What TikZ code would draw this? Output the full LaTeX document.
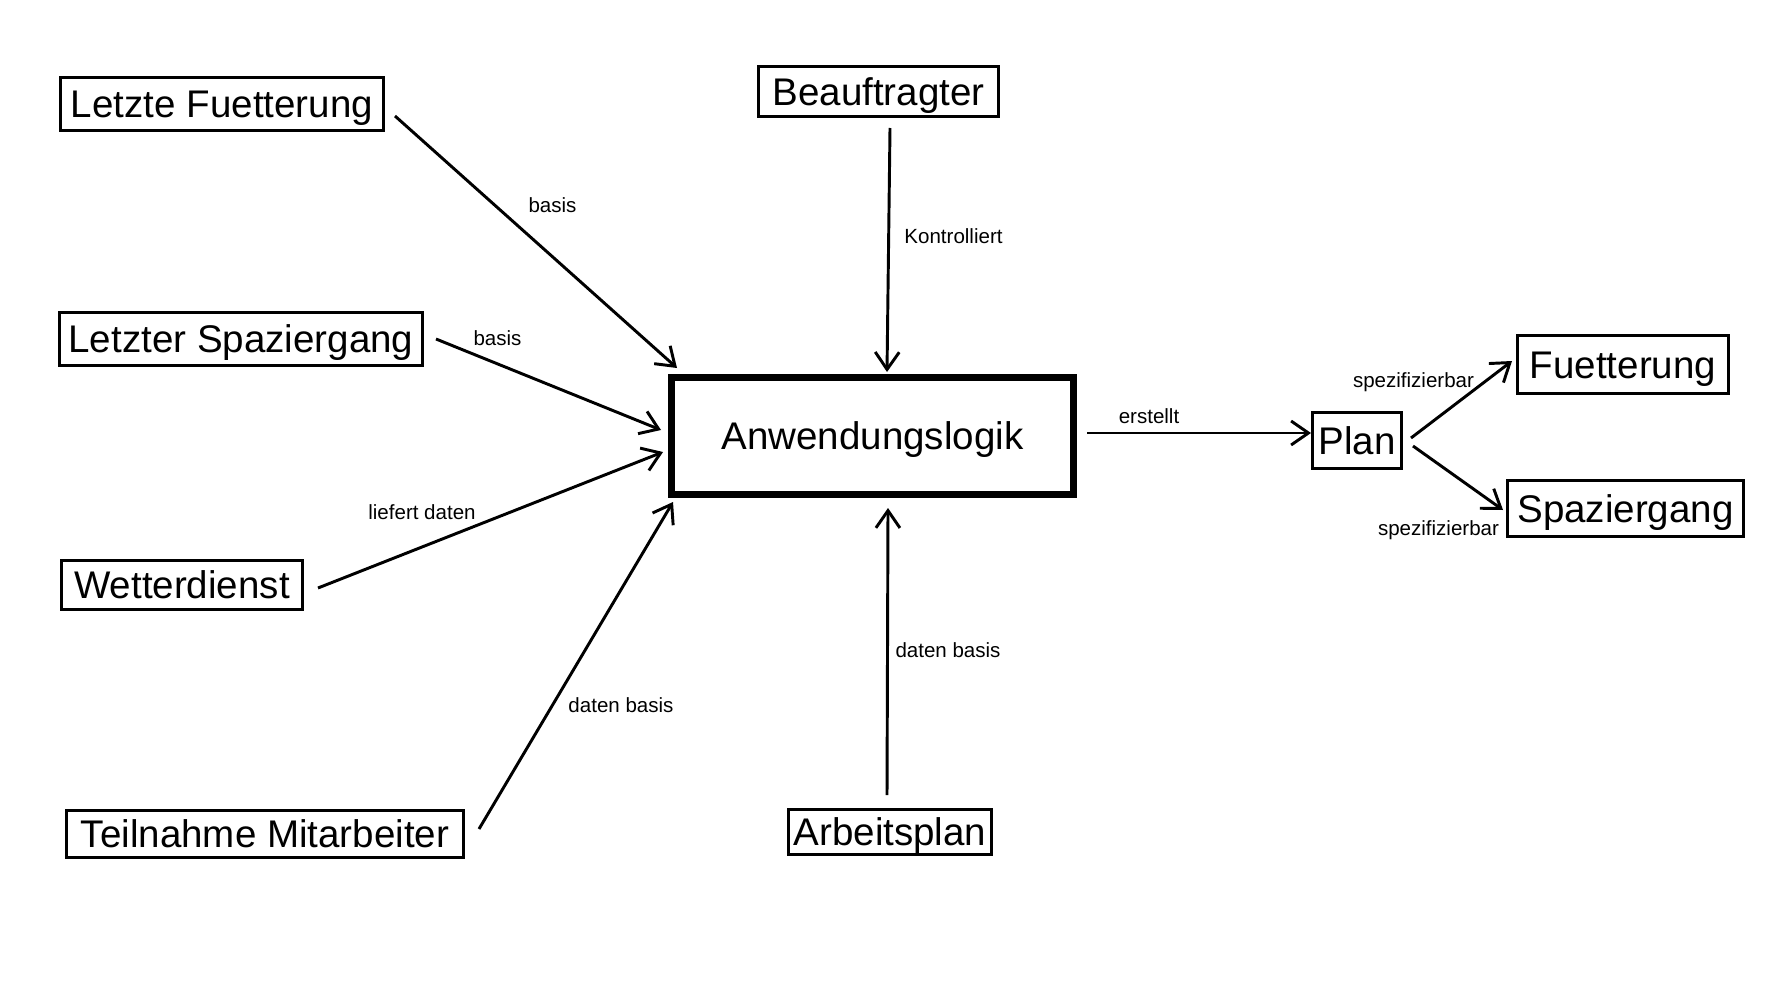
\documentclass[tikz,border=0pt]{standalone}
\usepackage{fontspec}
\setmainfont{Liberation Sans}
\usetikzlibrary{arrows.meta,calc}
\tikzset{
  box/.style={draw, line width=2.25pt, inner sep=0pt, font=\fontsize{28.9}{30}\selectfont, text height=20.7pt, text depth=0pt},
  bigbox/.style={draw, line width=5.25pt, inner sep=0pt, font=\fontsize{28.9}{30}\selectfont, text height=20.7pt, text depth=0pt},
  lbl/.style={inner sep=0pt, font=\fontsize{15.4}{16}\selectfont, text height=11pt, text depth=0pt},
  arr/.style={line width=2.2pt, -{Straight Barb[length=13pt,width=18pt,line width=2.2pt]}}
}
\begin{document}
\begin{tikzpicture}[x=0.75pt,y=-0.75pt]
\useasboundingbox[fill=white] (0,0) rectangle (1776,988);
% boxes
\node[box, minimum width=242.25pt, minimum height=39.75pt] (LF) at (222,104) {Letzte Fuetterung};
\node[box, minimum width=180pt, minimum height=37.5pt] (BE) at (878.5,91.5) {Beauftragter};
\node[box, minimum width=272.25pt, minimum height=39.75pt] (LS) at (241,339) {Letzter Spaziergang};
\node[bigbox, minimum width=301.5pt, minimum height=87.75pt] (AL) at (872.5,436) {Anwendungslogik};
\node[box, minimum width=180.75pt, minimum height=36.75pt] (WD) at (182,585) {Wetterdienst};
\node[box, minimum width=297.75pt, minimum height=35.25pt] (TM) at (265,834) {Teilnahme Mitarbeiter};
\node[box, minimum width=152.25pt, minimum height=33.75pt] (AP) at (890,832) {Arbeitsplan};
\node[box, minimum width=66.75pt, minimum height=42pt] (PL) at (1357,440.5) {Plan};
\node[box, minimum width=158.25pt, minimum height=43.5pt] (FU) at (1623,364.5) {Fuetterung};
\node[box, minimum width=177pt, minimum height=42pt] (SP) at (1625.5,508.5) {Spaziergang};
% connectors
\draw[arr] ($(LF.east)+(10,12)$) -- ($(AL.north west)+(9,-6)$);
\draw[arr] ($(LS.east)+(12,0)$) -- ($(AL.west)+(-7,-6)$);
\draw[arr] ($(WD.east)+(14,3)$) -- ($(AL.west)+(-5,16)$);
\draw[arr] ($(TM.east)+(14,-5)$) -- ($(AL.south west)+(5,4)$);
\draw[arr] ($(BE.south)+(11.5,10)$) -- ($(AL.north)+(14.5,-2)$);
\draw[arr] ($(AP.north)+(-3,-13)$) -- ($(AL.south)+(15.5,10)$);
\draw[arr] ($(AL.east)+(10,-3)$) -- ($(PL.west)+(0,-7.5)$);
\draw[arr] ($(PL.east)+(8,-2.5)$) -- ($(FU.west)+(-4,-3.5)$);
\draw[arr] ($(PL.east)+(10,5.5)$) -- ($(SP.west)+(-3,1.5)$);
% labels
\node[lbl] (l1) at (552.5,205) {basis};
\node[lbl] (l2) at (497.5,338) {basis};
\node[lbl] (l3) at (422,512) {liefert daten};
\node[lbl] (l4) at (621,705) {daten basis};
\node[lbl] (l5) at (953.5,236) {Kontrolliert};
\node[lbl] (l6) at (948,650) {daten basis};
\node[lbl] (l7) at (1149,416.5) {erstellt};
\node[lbl] (l8) at (1413.5,380) {spezifizierbar};
\node[lbl] (l9) at (1438.5,528) {spezifizierbar};
\end{tikzpicture}
\end{document}
